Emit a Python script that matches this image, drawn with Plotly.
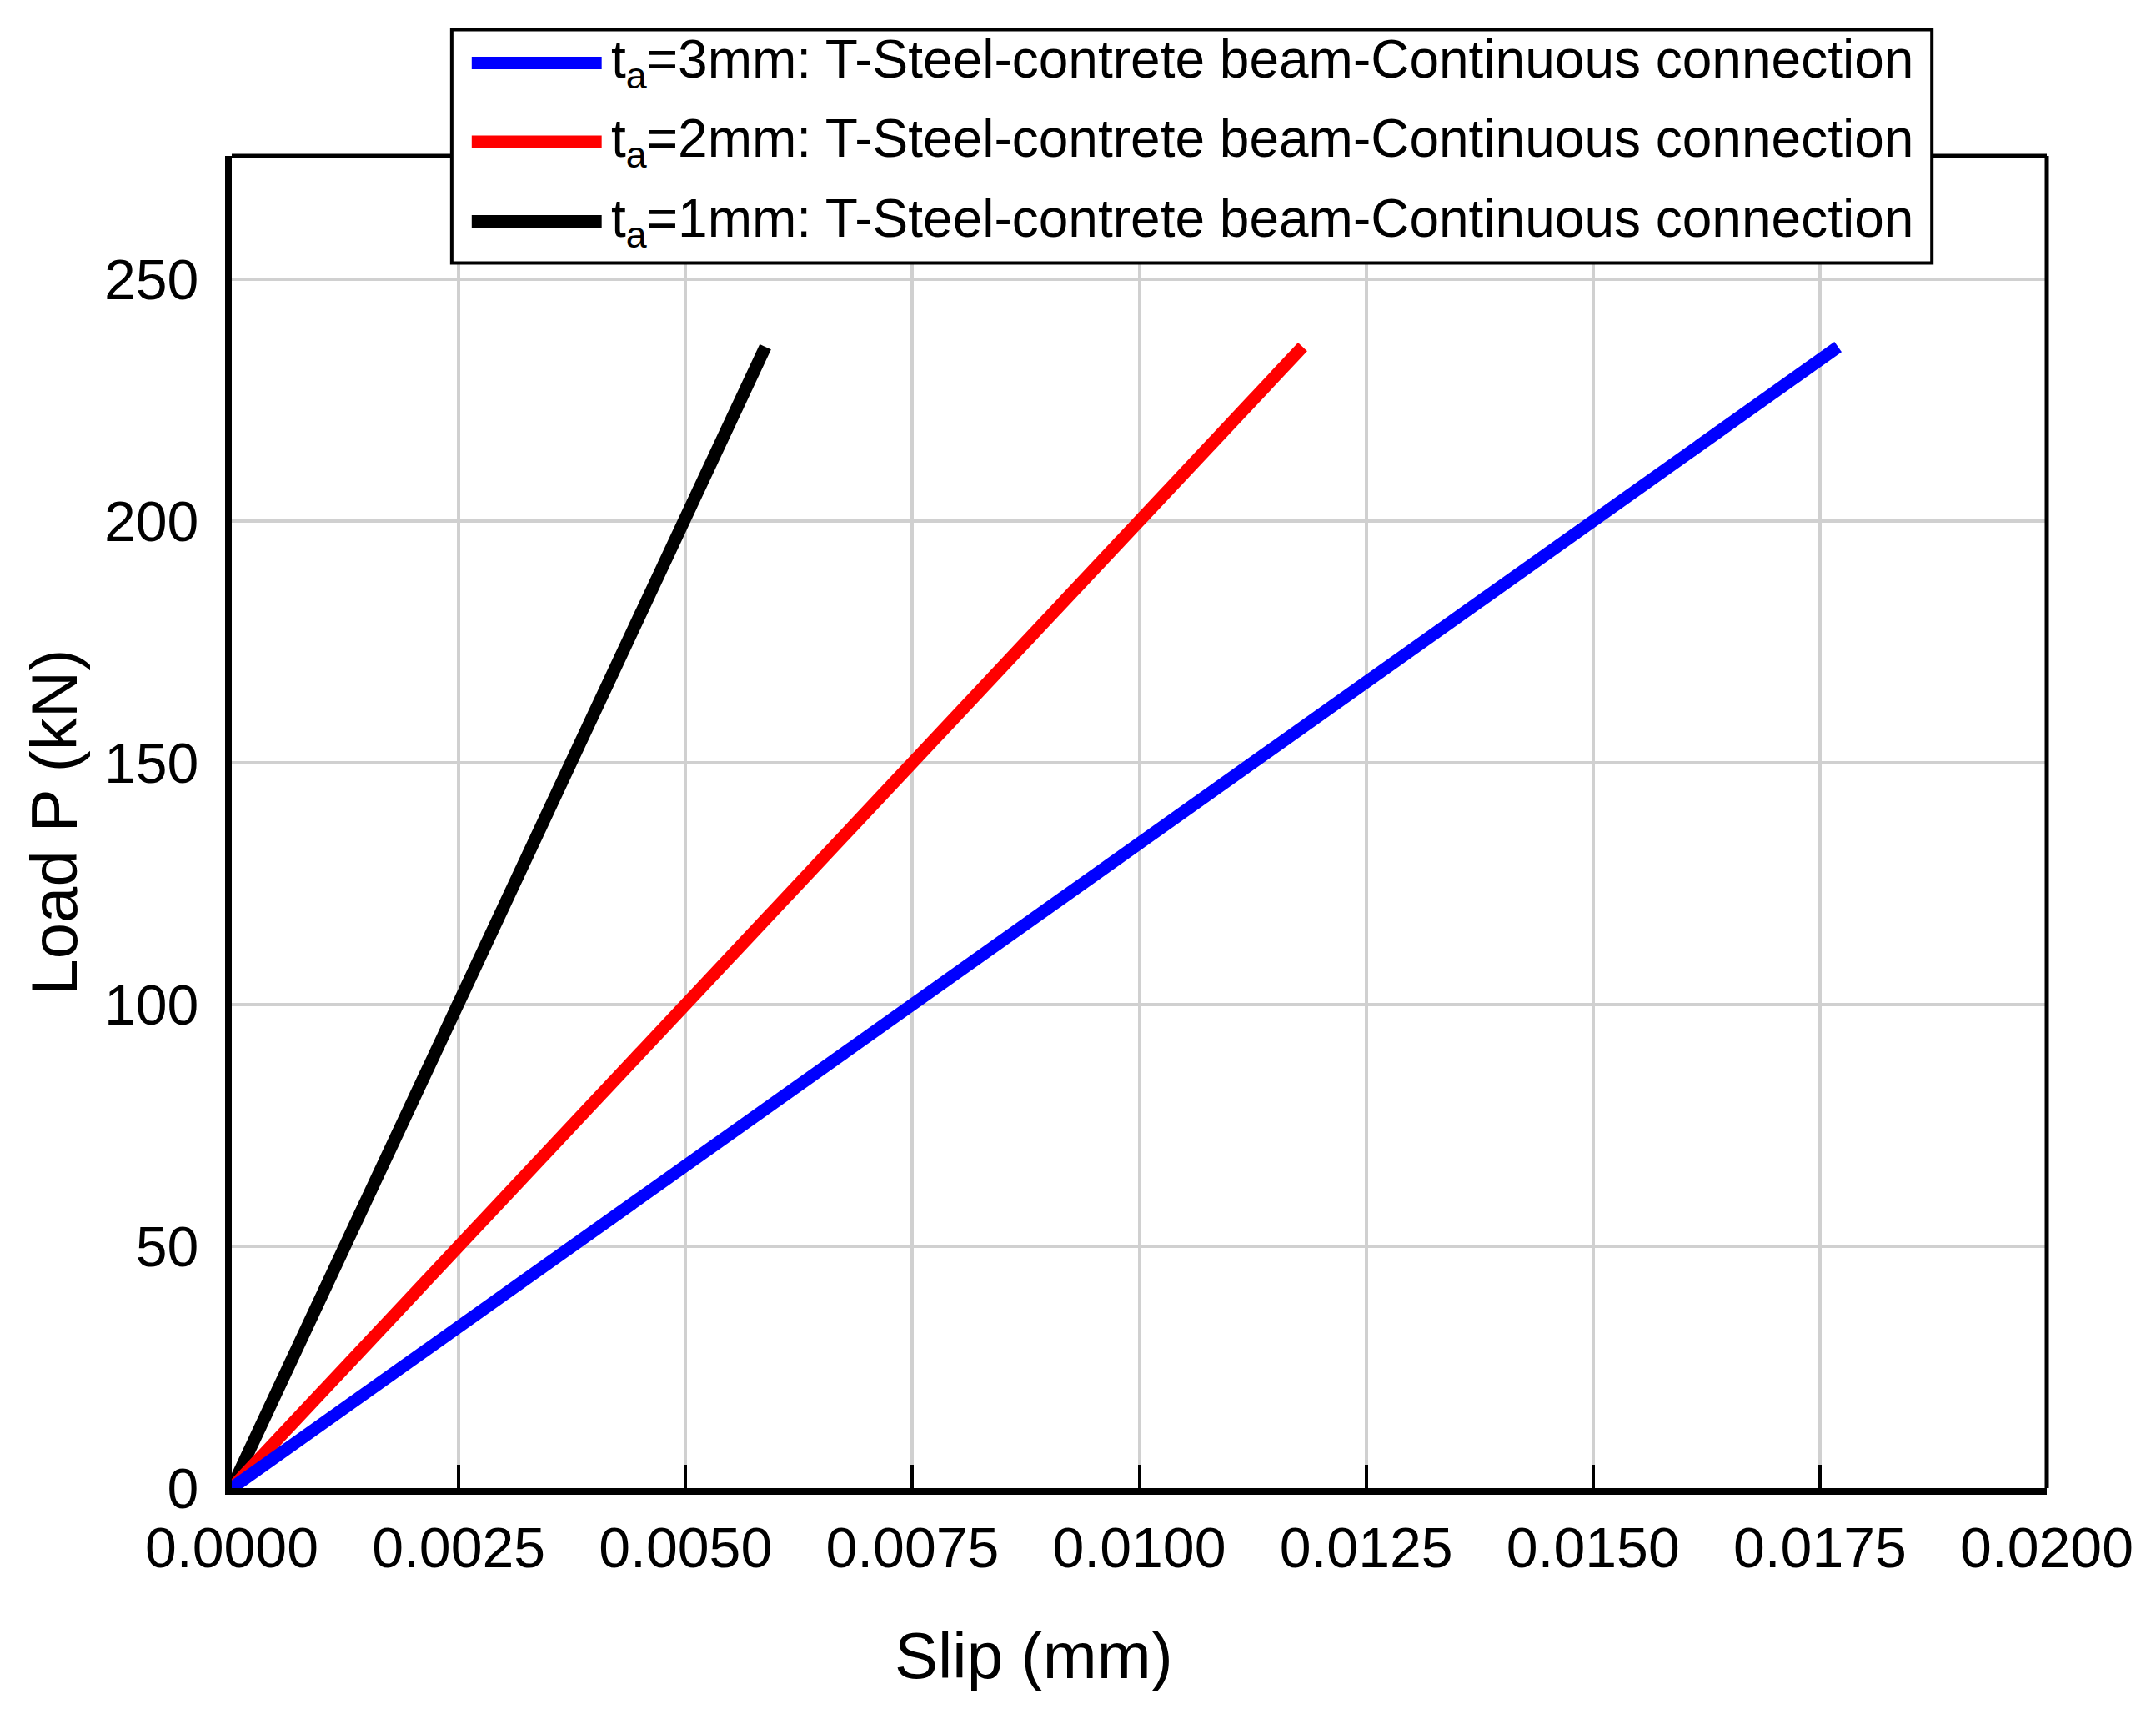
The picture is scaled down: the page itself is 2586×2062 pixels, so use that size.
import plotly.graph_objects as go

# values
load_kn = [0, 50, 100, 150, 200, 236]
slip_ta1 = [0, 0.00124, 0.00248, 0.00372, 0.00496, 0.00588]
slip_ta2 = [0, 0.0025, 0.0050, 0.0075, 0.0100, 0.0118]
slip_ta3 = [0, 0.00375, 0.0075, 0.01125, 0.0150, 0.0177]

labels = [
    "t<sub>a</sub>=3mm: T-Steel-contrete beam-Continuous connection",
    "t<sub>a</sub>=2mm: T-Steel-contrete beam-Continuous connection",
    "t<sub>a</sub>=1mm: T-Steel-contrete beam-Continuous connection",
]
colors = ["#0000ff", "#ff0000", "#000000"]

FONT = "Liberation Sans, Arial, sans-serif"

fig = go.Figure()
# drawn black first so blue ends on top near the origin
for slip, col in [(slip_ta1, colors[2]), (slip_ta2, colors[1]), (slip_ta3, colors[0])]:
    fig.add_trace(go.Scatter(x=slip, y=load_kn, mode="lines",
                             line=dict(color=col, width=15), showlegend=False))

fig.update_xaxes(range=[0, 0.02], dtick=0.0025, tick0=0, tickformat=".4f",
                 showline=True, linecolor="black", linewidth=8,
                 ticks="inside", ticklen=28, tickwidth=4, tickcolor="black",
                 showgrid=True, gridcolor="#d0d0d0", gridwidth=4,
                 zeroline=False, ticklabelstandoff=5,
                 tickfont=dict(family=FONT, size=68, color="black"))
fig.update_yaxes(range=[0, 275.5], dtick=50, tick0=0,
                 showline=True, linecolor="black", linewidth=8,
                 ticks="", showgrid=True, gridcolor="#d0d0d0", gridwidth=4,
                 zeroline=False, ticklabelstandoff=18,
                 tickfont=dict(family=FONT, size=68, color="black"))

# top and right frame, a bit thinner than the main axes
fig.add_shape(type="line", xref="paper", yref="paper", x0=0, x1=1, y0=1, y1=1,
              line=dict(color="black", width=5))
fig.add_shape(type="line", xref="paper", yref="paper", x0=1, x1=1, y0=0, y1=1,
              line=dict(color="black", width=5))

# axis titles
fig.add_annotation(text="Slip (mm)", xref="paper", yref="paper", x=0.442, y=-0.126,
                   showarrow=False, xanchor="center", yanchor="middle",
                   font=dict(family=FONT, size=78, color="black"))
fig.add_annotation(text="Load P (kN)", xref="paper", yref="paper", x=-0.098, y=0.5,
                   showarrow=False, textangle=-90, xanchor="center", yanchor="middle",
                   font=dict(family=FONT, size=78, color="black"))

# legend box drawn by hand (long line samples)
fig.add_shape(type="rect", xref="paper", yref="paper", x0=0.1212, x1=0.9367,
              y0=0.9196, y1=1.0948, fillcolor="white", line=dict(color="black", width=4),
              layer="above")
rows_y = [1.0698, 1.0106, 0.9508]
for lab, col, yy in zip(labels, colors, rows_y):
    fig.add_shape(type="line", xref="paper", yref="paper", x0=0.1322, x1=0.2038,
                  y0=yy, y1=yy, line=dict(color=col, width=15), layer="above")
    fig.add_annotation(text=lab, xref="paper", yref="paper", x=0.2079, y=yy,
                       showarrow=False, xanchor="left", yanchor="middle",
                       font=dict(family=FONT, size=64, color="black"))

# page body adds a small offset, margins compensate for it
fig.update_layout(width=2586, height=2062, plot_bgcolor="white", paper_bgcolor="white",
                  margin=dict(l=270, r=139, t=179, b=285))

fig.write_html("out.html")
